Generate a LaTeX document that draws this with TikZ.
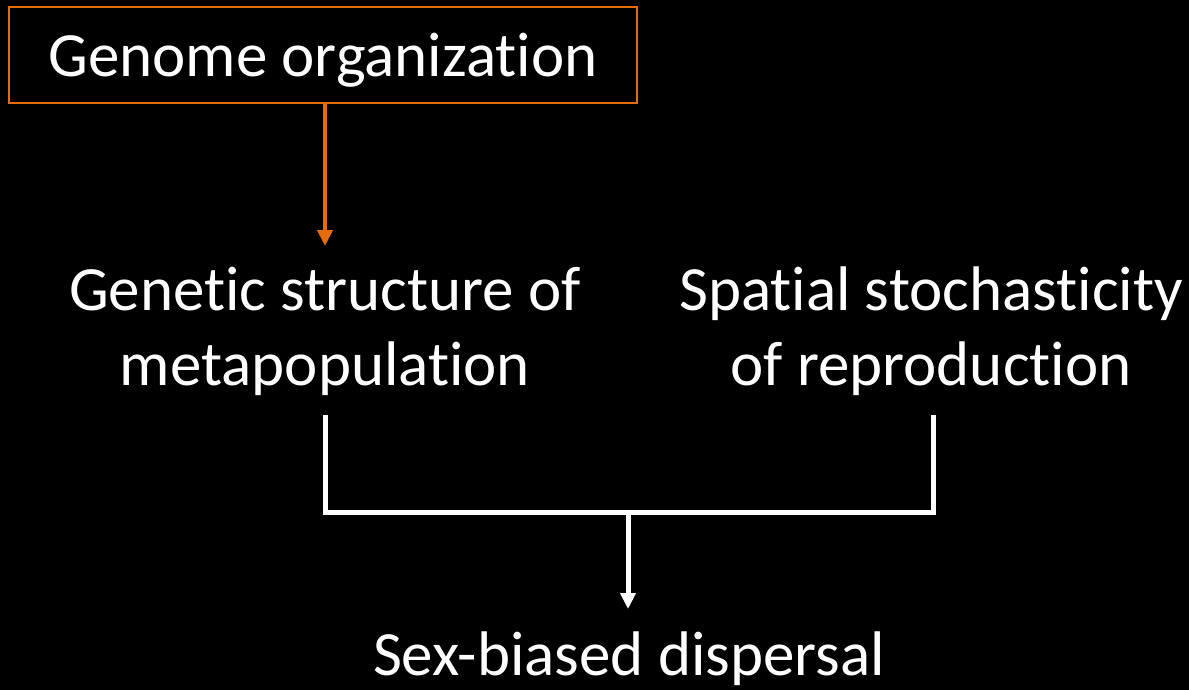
\documentclass[tikz,border=0pt]{standalone}
\usepackage{fontspec}
\setmainfont{Carlito}[Ligatures=NoCommon]
\usetikzlibrary{arrows.meta}
\definecolor{orng}{RGB}{228,108,10}
\tikzset{
  txt/.style={text=white, font=\fontsize{63}{75}\selectfont, align=center, inner sep=0pt},
  wline/.style={draw=white, line width=5pt},
  warrow/.style={wline, -{Triangle[width=15pt,length=16pt]}},
  oarrow/.style={draw=orng, line width=4.5pt, -{Triangle[width=15pt,length=16pt]}},
}
\begin{document}
\begin{tikzpicture}[x=1pt,y=-1pt]
\fill[black] (0,0) rectangle (1189,690);
\useasboundingbox (0,0) rectangle (1189,690);
\node[draw=orng, line width=2pt, minimum width=628pt, minimum height=96pt, inner sep=0pt] (box) at (323,55) {};
\node[txt, anchor=base] (gtxt) at (323,77) {Genome organization};
\node[txt, anchor=base] (gen1) at (325,310) {Genetic structure of};
\node[txt, anchor=base] (gen2) at (325,385) {metapopulation};
\node[txt, anchor=base] (sp1) at (931,310) {Spatial stochasticity};
\node[txt, anchor=base] (sp2) at (931,385) {of reproduction};
\node[txt, anchor=base] (sex) at (629,675) {Sex-biased dispersal};
\coordinate (otop) at (325,103);
\coordinate (obot) at (325,246);
\draw[oarrow] (otop) -- (obot);
\coordinate (lt) at (325,415);
\coordinate (rt) at (933,415);
\coordinate (lb) at (325,512);
\coordinate (rb) at (933,512);
\coordinate (mid) at (628,512);
\coordinate (tip) at (628,609);
\draw[wline, line join=miter] (lt) -- (lb) -- (rb) -- (rt);
\draw[warrow] (mid) -- (tip);
\end{tikzpicture}
\end{document}
